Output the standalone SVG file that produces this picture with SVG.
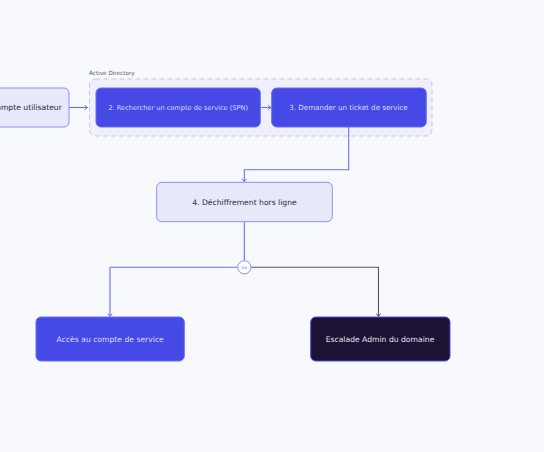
<svg xmlns="http://www.w3.org/2000/svg" width="544" height="452" viewBox="0 0 544 452">
<style>
text{font-family:"DejaVu Sans","Liberation Sans",sans-serif;text-anchor:middle;dominant-baseline:central}
.light rect{fill:#e8e8fb;stroke:#8b8ff3;stroke-width:1}
.light text{fill:#2a2a40}
.blue rect{fill:#4549e6;stroke:#6a6ef0;stroke-width:1}
.blue text{fill:#dcdcff}
.dark rect{fill:#1d1233;stroke:#4a4ee6;stroke-width:1}
.dark text{fill:#e2e0f0}
.edge{fill:none;stroke:#6b6ff0;stroke-width:1.1}
.edge.gray{stroke:#555560}
</style>
<defs>
<marker id="ah" markerWidth="6" markerHeight="6" refX="4" refY="3" orient="auto" markerUnits="userSpaceOnUse">
<path d="M1,0.8 L4,3 L1,5.2" fill="none" stroke="#6b6ff0" stroke-width="1"/>
</marker>
<marker id="ahg" markerWidth="6" markerHeight="6" refX="4" refY="3" orient="auto" markerUnits="userSpaceOnUse">
<path d="M1,0.8 L4,3 L1,5.2" fill="none" stroke="#555560" stroke-width="1"/>
</marker>
</defs>
<rect width="544" height="452" fill="#f8f9fc"/>
<g id="cluster-ad">
<rect x="89.5" y="79" width="342.5" height="57" rx="6" fill="#f0f0fc" stroke="#c2c4f4" stroke-width="1" stroke-dasharray="5,3"/>
<text x="89" y="73" style="text-anchor:start;font-size:5.7px;fill:#55556a">Active Directory</text>
</g>
<g id="connectors">
<path class="edge" d="M69,107.5 H87.5" marker-end="url(#ah)"/>
<path class="edge" d="M260.5,107.5 H271" marker-end="url(#ah)"/>
<path class="edge" d="M348.7,127 V169.7 H244.3 V181.8" marker-end="url(#ah)"/>
<path class="edge" d="M244.3,221.7 V260.5"/>
<path class="edge" d="M237.5,267.3 H110 V316.5" marker-end="url(#ah)"/>
<path class="edge gray" d="M251.1,267.3 H378.5 V316.5" marker-end="url(#ahg)"/>
<circle cx="244.3" cy="267.3" r="6.6" fill="#ffffff" stroke="#8b8ff3" stroke-width="1"/>
<text x="244.3" y="267.5" style="font-size:4.5px;fill:#6b6ff0">ou</text>
</g>
<g id="n1" class="light">
<rect x="-30" y="88" width="99" height="39" rx="5"/>
<text x="21.5" y="107.7" style="font-size:7.65px">1. Compte utilisateur</text>
</g>
<g id="n2" class="blue">
<rect x="96" y="88" width="164.3" height="39" rx="5"/>
<text x="178.2" y="107.7" style="font-size:6.6px">2. Rechercher un compte de service (SPN)</text>
</g>
<g id="n3" class="blue">
<rect x="271.7" y="88" width="154.6" height="39" rx="5"/>
<text x="348.5" y="107.7" style="font-size:7.1px">3. Demander un ticket de service</text>
</g>
<g id="n4" class="light">
<rect x="156.7" y="182.3" width="175.6" height="39.4" rx="5"/>
<text x="244.5" y="202" style="font-size:7.65px">4. Déchiffrement hors ligne</text>
</g>
<g id="n5" class="blue">
<rect x="36" y="317" width="148.3" height="44" rx="5"/>
<text x="110.2" y="339" style="font-size:7.65px">Accès au compte de service</text>
</g>
<g id="n6" class="dark">
<rect x="310.7" y="317" width="139.3" height="44" rx="5"/>
<text x="380" y="339" style="font-size:7.65px">Escalade Admin du domaine</text>
</g>
</svg>
